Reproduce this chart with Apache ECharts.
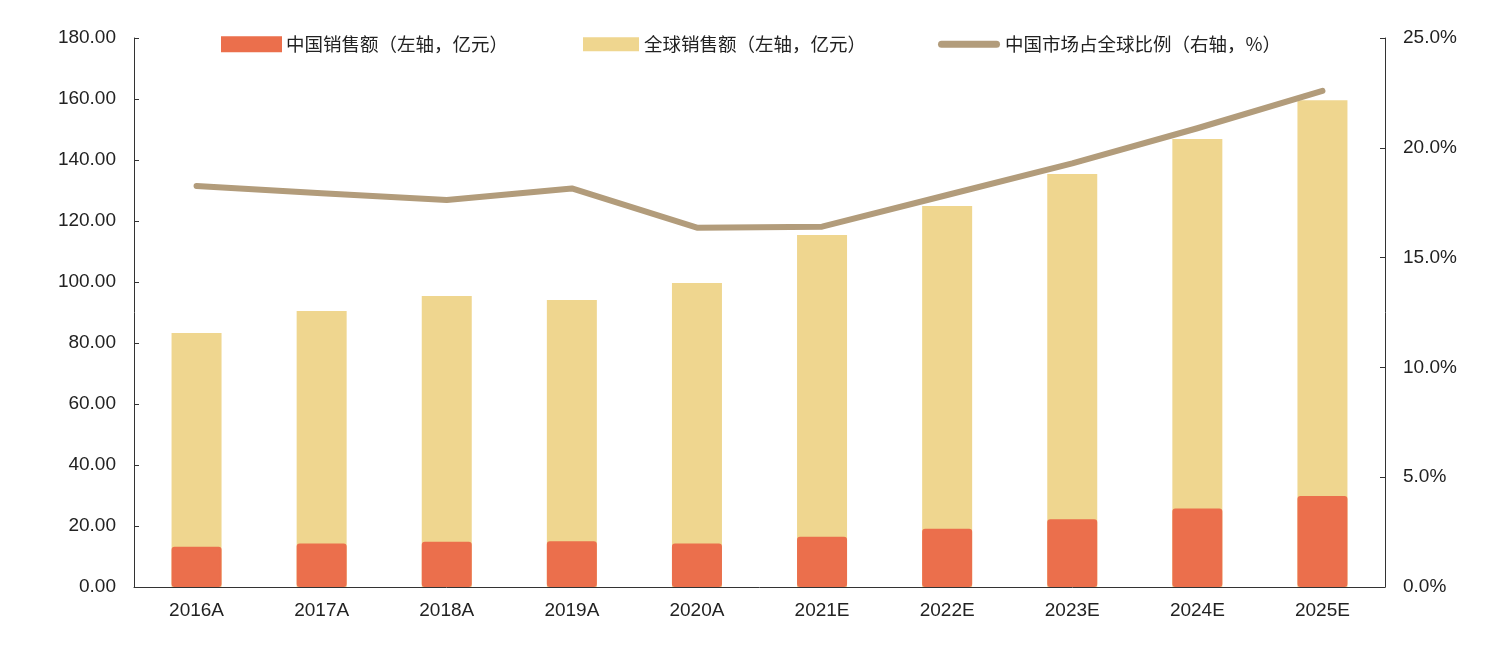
<!DOCTYPE html>
<html><head><meta charset="utf-8">
<script src="https://cdn.jsdelivr.net/npm/echarts@6/dist/echarts.min.js"></script>
<style>html,body{margin:0;padding:0;background:#fff}#c{width:1490px;height:650px}</style>
</head><body><div id="c"></div>
<script>
const categories = ['2016A','2017A','2018A','2019A','2020A','2021E','2022E','2023E','2024E','2025E'];
const chinaSales = [13.2,14.3,14.8,15.0,14.3,16.5,19.1,22.2,25.7,29.8];
const globalSales = [83.3,90.5,95.4,94.1,99.7,115.4,124.9,135.4,146.9,159.6];
const chinaShare = [18.26,17.93,17.62,18.15,16.36,16.41,17.85,19.29,20.89,22.59];
const leftTicks = {min:0,max:180,interval:20};
const rightTicks = {min:0,max:25,interval:5};
const names = ['中国销售额（左轴，亿元）','全球销售额（左轴，亿元）','中国市场占全球比例（右轴，%）'];

const font = '"Liberation Sans", Arial, sans-serif';
const cjk = '"Noto Sans CJK SC", sans-serif';
const axisColor = '#333';
const legendText = {fontSize:18.5, color:'#222', fontFamily: cjk, padding:[0,0,0,0]};
const chart = echarts.init(document.getElementById('c'));
chart.setOption({
  animation:false,
  grid:{left:134,right:105,top:38,bottom:63},
  legend:[
    {data:[{name:names[0],icon:'rect'}],left:221,top:35,padding:0,itemWidth:59,itemHeight:14,textStyle:legendText},
    {data:[{name:names[1],icon:'rect'}],left:583,top:35,padding:0,itemWidth:56,itemHeight:14,textStyle:legendText},
    {data:[{name:names[2],icon:'path://M3.5,0 L58.5,0 A3.5,3.5 0 0 1 58.5,7 L3.5,7 A3.5,3.5 0 0 1 3.5,0 Z'}],left:938,top:35,padding:0,itemWidth:62,itemHeight:14,textStyle:legendText}
  ],
  xAxis:{type:'category',data:categories,
    axisLine:{lineStyle:{color:axisColor,width:1}},
    axisTick:{inside:true,length:5,lineStyle:{color:axisColor}},
    axisLabel:{fontSize:19,color:'#222',fontFamily:font,margin:14}},
  yAxis:[
    {type:'value',min:leftTicks.min,max:leftTicks.max,interval:leftTicks.interval,
     axisLine:{show:true,lineStyle:{color:axisColor}},
     axisTick:{show:true,inside:true,length:5,lineStyle:{color:axisColor}},
     splitLine:{show:false},
     axisLabel:{fontSize:19,color:'#222',fontFamily:font,margin:18,formatter:v=>v.toFixed(2)}},
    {type:'value',min:rightTicks.min,max:rightTicks.max,interval:rightTicks.interval,position:'right',
     axisLine:{show:true,lineStyle:{color:axisColor}},
     axisTick:{show:true,inside:true,length:5,lineStyle:{color:axisColor}},
     splitLine:{show:false},
     axisLabel:{fontSize:19,color:'#222',fontFamily:font,margin:18,formatter:v=>v.toFixed(1)+'%'}}
  ],
  series:[
    {name:names[1],type:'bar',data:globalSales,barWidth:50,barGap:'-100%',z:1,
     itemStyle:{color:'#EFD68F'}},
    {name:names[0],type:'bar',data:chinaSales,barWidth:50,barGap:'-100%',z:2,
     itemStyle:{color:'#EB6F4C',borderColor:'#EB6F4C',borderWidth:2,borderRadius:2}},
    {name:names[2],type:'line',yAxisIndex:1,data:chinaShare,symbol:'none',showSymbol:false,z:3,
     lineStyle:{color:'#B29C7B',width:6,cap:'round',join:'round'},itemStyle:{color:'#B29C7B'}}
  ]
});
</script></body></html>
